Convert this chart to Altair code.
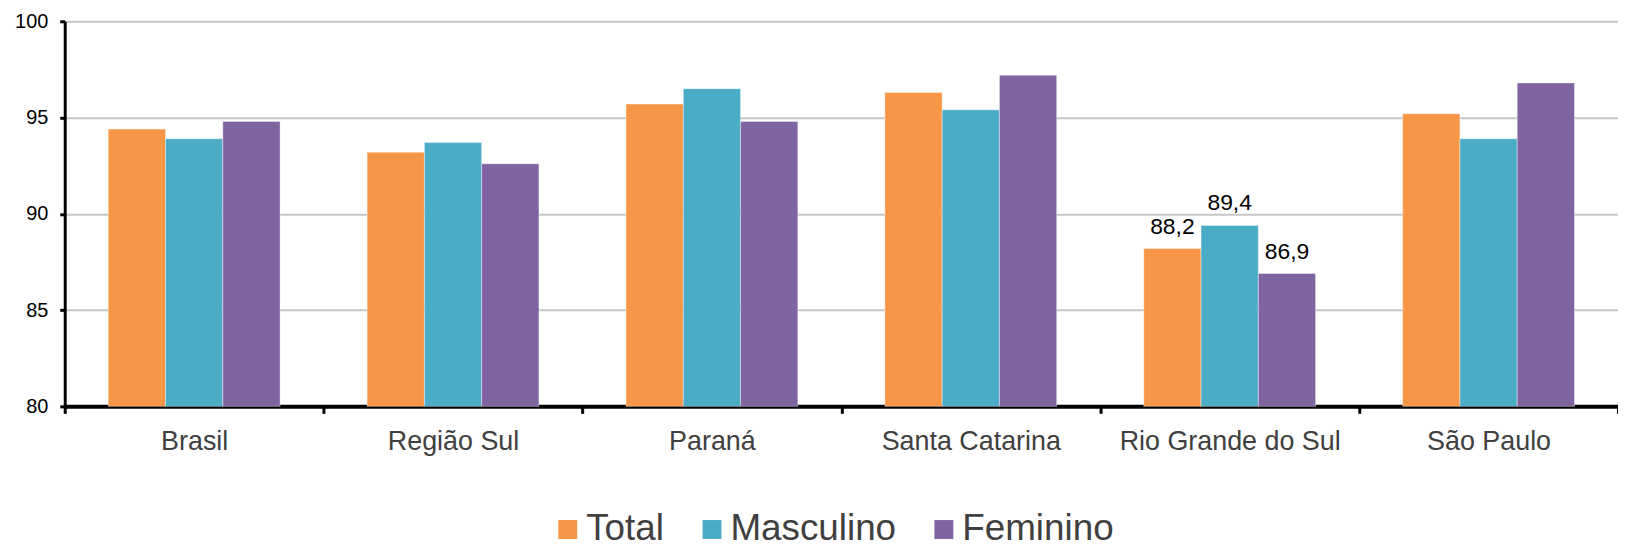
import altair as alt
import pandas as pd

categories = ["Brasil", "Região Sul", "Paraná", "Santa Catarina", "Rio Grande do Sul", "São Paulo"]
series = ["Total", "Masculino", "Feminino"]
total = [94.4, 93.2, 95.7, 96.3, 88.2, 95.2]
masculino = [93.9, 93.7, 96.5, 95.4, 89.4, 93.9]
feminino = [94.8, 92.6, 94.8, 97.2, 86.9, 96.8]
colors = ["#F79646", "#4BACC6", "#8064A2"]
labelled = ["Rio Grande do Sul"]

rows = []
for i, c in enumerate(categories):
    for s, vals in zip(series, [total, masculino, feminino]):
        rows.append({"cat": c, "serie": s, "value": vals[i]})
df = pd.DataFrame(rows)

x = alt.X("cat:N", sort=categories, title=None,
          scale=alt.Scale(paddingInner=0, paddingOuter=0),
          axis=alt.Axis(labelAngle=0, labelFontSize=27, labelColor="#404040",
                        labelFont="Liberation Sans", labelPadding=15, labelLimit=0,
                        domainColor="black", domainWidth=4,
                        tickColor="black", tickWidth=3, tickSize=7,
                        tickBand="extent", grid=False))
y = alt.Y("value:Q", title=None,
          scale=alt.Scale(domain=[80, 100], zero=False, nice=False),
          axis=alt.Axis(values=[80, 85, 90, 95, 100], labelFontSize=20,
                        labelColor="black", labelFont="Liberation Sans",
                        labelPadding=12, domainColor="black", domainWidth=3,
                        tickColor="black", tickWidth=3, tickSize=5,
                        gridColor="#c6c6c6", gridWidth=2))

color = alt.Color("serie:N", sort=series,
                  scale=alt.Scale(domain=series, range=colors),
                  legend=alt.Legend(title=None, orient="none", direction="horizontal",
                                    legendX=487, legendY=492, padding=0,
                                    symbolType="square", symbolSize=361,
                                    symbolStrokeWidth=0, labelFontSize=37,
                                    labelColor="#404040", labelFont="Liberation Sans",
                                    labelOffset=0, columnPadding=29, labelLimit=0,
                                    symbolOpacity=1))

xoff_scale = alt.Scale(paddingInner=0, paddingOuter=0.76)

bars = alt.Chart(df).mark_bar(stroke="white", strokeWidth=0.8, strokeOpacity=0.5).encode(
    x=x,
    xOffset=alt.XOffset("serie:N", sort=series, scale=xoff_scale),
    y=y,
    y2=alt.datum(80),
    color=color,
)

texts = alt.Chart(df).transform_filter(
    alt.FieldOneOfPredicate(field="cat", oneOf=labelled)
).transform_calculate(
    lab="replace(format(datum.value, '.1f'), '.', ',')"
).mark_text(baseline="alphabetic", dy=-15, fontSize=23, font="Liberation Sans",
            color="black").encode(
    x=alt.X("cat:N", sort=categories),
    xOffset=alt.XOffset("serie:N", sort=series, scale=xoff_scale),
    y=alt.Y("value:Q"),
    text="lab:N",
)

chart = alt.layer(bars, texts).properties(
    width=1561, height=387,
    autosize=alt.AutoSizeParams(type="none"),
    padding={"left": 57, "top": 12, "right": 0, "bottom": 143},
).configure_view(stroke=None).configure_axis(labelFont="Liberation Sans")

chart.save("out.html", embed_options={"renderer": "svg", "actions": False})
